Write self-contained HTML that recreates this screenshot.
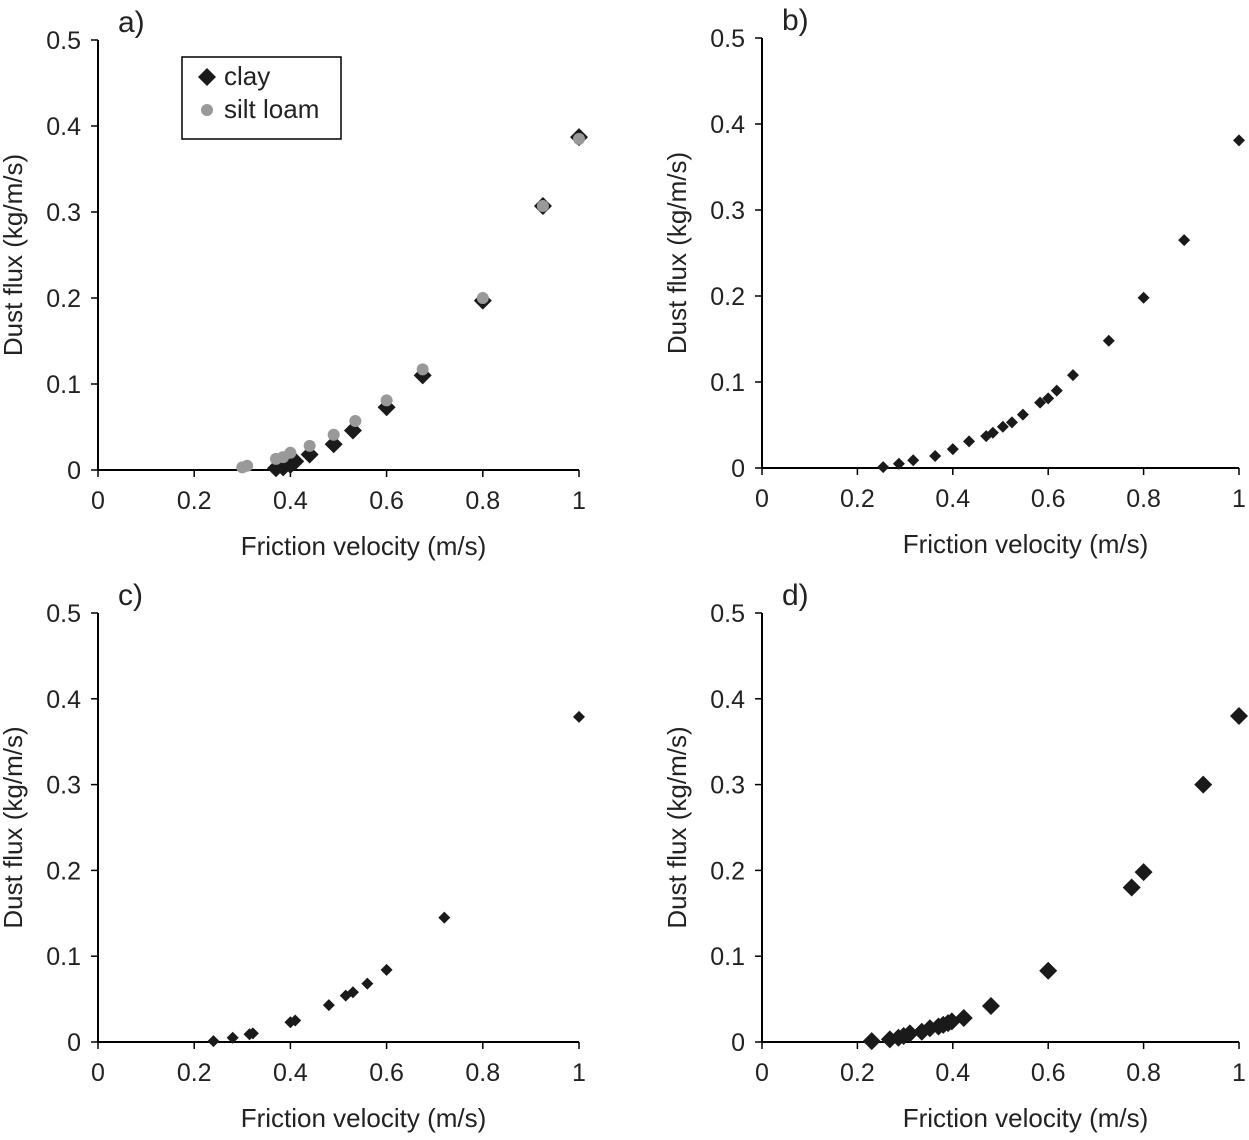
<!DOCTYPE html>
<html><head><meta charset="utf-8"><style>
body{margin:0;background:#fff}
svg{display:block;font-family:"Liberation Sans",sans-serif}
</style></head><body>
<svg id="c" width="1249" height="1140" viewBox="0 0 1249 1140"></svg>
<script>
const xTicks=[0,0.2,0.4,0.6,0.8,1];
const xTickLabels=["0","0.2","0.4","0.6","0.8","1"];
const yTicks=[0,0.1,0.2,0.3,0.4,0.5];
const yTickLabels=["0","0.1","0.2","0.3","0.4","0.5"];
const aClayX=[0.37,0.385,0.40,0.41,0.44,0.49,0.53,0.60,0.675,0.80,0.925,1.0];
const aClayY=[0.002,0.003,0.006,0.01,0.018,0.03,0.046,0.073,0.11,0.197,0.307,0.387];
const aSiltX=[0.30,0.31,0.37,0.385,0.40,0.44,0.49,0.535,0.60,0.675,0.80,0.925,1.0];
const aSiltY=[0.003,0.005,0.013,0.015,0.02,0.028,0.041,0.057,0.081,0.117,0.2,0.307,0.385];
const bX=[0.254,0.287,0.317,0.363,0.40,0.434,0.47,0.484,0.505,0.524,0.547,0.583,0.60,0.618,0.652,0.727,0.80,0.885,1.0];
const bY=[0.001,0.005,0.009,0.014,0.022,0.031,0.037,0.041,0.048,0.053,0.062,0.076,0.081,0.09,0.108,0.148,0.198,0.265,0.381];
const cX=[0.24,0.28,0.315,0.322,0.40,0.41,0.48,0.515,0.53,0.56,0.60,0.72,1.0];
const cY=[0.001,0.005,0.009,0.01,0.023,0.025,0.043,0.054,0.058,0.068,0.084,0.145,0.379];
const dX=[0.23,0.268,0.286,0.297,0.31,0.335,0.352,0.37,0.38,0.39,0.398,0.423,0.48,0.60,0.775,0.80,0.925,1.0];
const dY=[0.001,0.003,0.005,0.007,0.01,0.012,0.016,0.018,0.02,0.022,0.024,0.028,0.042,0.083,0.18,0.198,0.30,0.38];

const svg=document.getElementById('c');
const NS='http://www.w3.org/2000/svg';
function mk(tag,at,parent){const e=document.createElementNS(NS,tag);for(const k in at)e.setAttribute(k,at[k]);(parent||svg).appendChild(e);return e;}

function panel(id,x0,x1,y0,y1,letter,series){
  const g=mk('g',{});
  
  
  const sx=v=>x0+(x1-x0)*v, sy=v=>y0-(y0-y1)*v/0.5;
  const ax=mk('line',{x1:x0,y1:y0,x2:x1,y2:y0,stroke:'#000','stroke-width':2},g);
  
  
  const ay=mk('line',{x1:x0,y1:y0,x2:x0,y2:y1,stroke:'#000','stroke-width':2},g);
  
  
  xTicks.forEach((t,i)=>{
    mk('line',{x1:sx(t),y1:y0,x2:sx(t),y2:y0+7,stroke:'#000','stroke-width':1.5},g);
    const tx=mk('text',{x:sx(t),y:y0+39,'text-anchor':'middle','font-size':25,fill:'#222'},g);
    tx.textContent=xTickLabels[i];
    
    
  });
  yTicks.forEach((t,i)=>{
    mk('line',{x1:x0-7,y1:sy(t),x2:x0,y2:sy(t),stroke:'#000','stroke-width':1.5},g);
    const tx=mk('text',{x:x0-17,y:sy(t)+9,'text-anchor':'end','font-size':25,fill:'#222'},g);
    tx.textContent=yTickLabels[i];
    
    
  });
  const xt=mk('text',{x:(x0+x1)/2+25,y:y0+85,'text-anchor':'middle','font-size':26,fill:'#222'},g);
  xt.textContent='Friction velocity (m/s)';
  
  
  const yt=mk('text',{x:0,y:0,'text-anchor':'middle','font-size':26,fill:'#222',transform:`translate(${x0-76},${(y0+y1)/2}) rotate(-90)`},g);
  yt.textContent='Dust flux (kg/m/s)';
  
  
  const lt=mk('text',{x:x0+20,y:y1-8,'font-size':30,fill:'#222'},g);
  lt.textContent=letter;
  
  
  series.forEach(s=>{
    s.xs.forEach((v,i)=>{
      const cx=sx(v),cy=sy(s.ys[i]);let m;
      if(s.circle){m=mk('circle',{cx:cx,cy:cy,r:s.size,fill:'#999'},g);}
      else{const r=s.size;m=mk('polygon',{points:`${cx},${cy-r} ${cx+r},${cy} ${cx},${cy+r} ${cx-r},${cy}`,fill:'#1a1a1a'},g);}
      
      
    });
  });
  return {g,sx,sy};
}
panel('a',98,579,470,40,'a)',[{xs:aClayX,ys:aClayY,size:9,name:'clay'},{xs:aSiltX,ys:aSiltY,size:6,circle:true,name:'silt-loam'}]);
panel('b',762,1239,468,38,'b)',[{xs:bX,ys:bY,size:6,name:'b'}]);
panel('c',98,579,1042,613,'c)',[{xs:cX,ys:cY,size:6,name:'c'}]);
panel('d',762,1239,1042,613,'d)',[{xs:dX,ys:dY,size:9,name:'d'}]);
const lg=mk('g',{});


mk('rect',{x:182,y:57,width:159,height:82,fill:'#fff',stroke:'#000','stroke-width':1.5},lg);
mk('polygon',{points:'207,68 216,77 207,86 198,77',fill:'#1a1a1a'},lg);
mk('circle',{cx:207,cy:110,r:6,fill:'#999'},lg);
const l1=mk('text',{x:224,y:85,'font-size':26,fill:'#222'},lg);l1.textContent='clay';


const l2=mk('text',{x:224,y:118,'font-size':26,fill:'#222'},lg);l2.textContent='silt loam';


</script>
</body></html>
